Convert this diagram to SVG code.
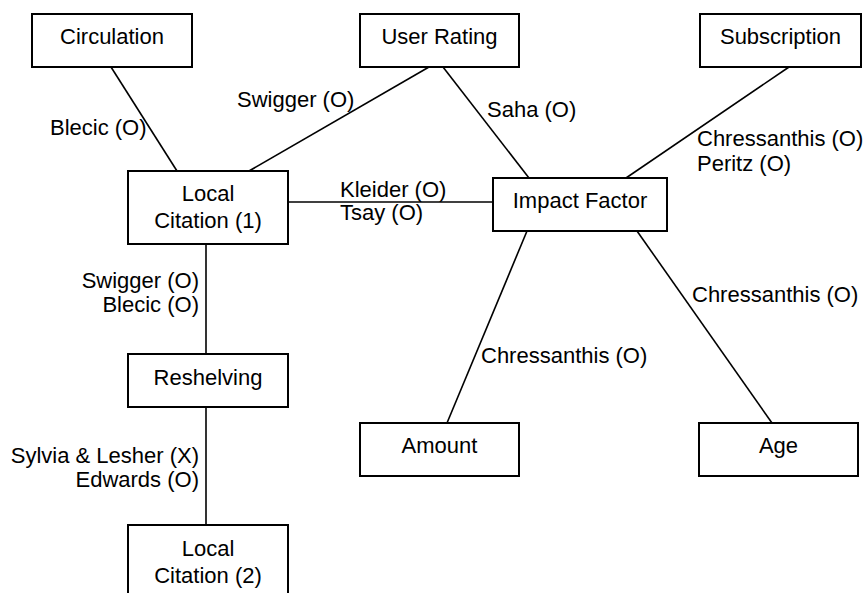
<svg xmlns="http://www.w3.org/2000/svg" width="864" height="593" viewBox="0 0 864 593">
<style>
.box{fill:#fff;stroke:#000;stroke-width:2}
.t{font-family:"Liberation Sans",Arial,sans-serif;font-size:22px;fill:#000}
.c{text-anchor:middle}
.e{text-anchor:end}
.ln{stroke:#000;stroke-width:1.6;fill:none}
</style>
<rect width="864" height="593" fill="#fff"/>
<g id="connectors">
<line class="ln" x1="111" y1="67" x2="177" y2="171"/>
<line class="ln" x1="429" y1="67" x2="249" y2="171"/>
<line class="ln" x1="443" y1="67" x2="529" y2="178"/>
<line class="ln" x1="789" y1="67" x2="626" y2="178"/>
<line class="ln" x1="288" y1="202" x2="493" y2="202"/>
<line class="ln" x1="527" y1="231" x2="447" y2="423"/>
<line class="ln" x1="637" y1="231" x2="772" y2="423"/>
<line class="ln" x1="206" y1="244" x2="206" y2="354"/>
<line class="ln" x1="206" y1="407" x2="206" y2="525"/>
<text class="t" x="50" y="135">Blecic (O)</text>
<text class="t" x="237" y="107">Swigger (O)</text>
<text class="t" x="487" y="117">Saha (O)</text>
<text class="t" x="340" y="197">Kleider (O)</text>
<text class="t" x="340" y="220">Tsay (O)</text>
<text class="t" x="697" y="146">Chressanthis (O)</text>
<text class="t" x="697" y="171">Peritz (O)</text>
<text class="t" x="692" y="302">Chressanthis (O)</text>
<text class="t" x="481" y="363">Chressanthis (O)</text>
<text class="t e" x="199" y="288">Swigger (O)</text>
<text class="t e" x="199" y="312">Blecic (O)</text>
<text class="t e" x="199" y="463">Sylvia &amp; Lesher (X)</text>
<text class="t e" x="199" y="487">Edwards (O)</text>
</g>
<g id="circulation">
<rect class="box" x="32" y="14" width="160" height="53"/>
<text class="t c" x="112" y="44">Circulation</text>
</g>
<g id="user-rating">
<rect class="box" x="360" y="14" width="159" height="53"/>
<text class="t c" x="439.5" y="44">User Rating</text>
</g>
<g id="subscription">
<rect class="box" x="700" y="14" width="161" height="53"/>
<text class="t c" x="780.5" y="44">Subscription</text>
</g>
<g id="local-citation-1">
<rect class="box" x="128" y="171" width="160" height="73"/>
<text class="t c" x="208" y="201">Local</text>
<text class="t c" x="208" y="228">Citation (1)</text>
</g>
<g id="impact-factor">
<rect class="box" x="493" y="178" width="174" height="53"/>
<text class="t c" x="580" y="208">Impact Factor</text>
</g>
<g id="reshelving">
<rect class="box" x="128" y="354" width="160" height="53"/>
<text class="t c" x="208" y="385">Reshelving</text>
</g>
<g id="amount">
<rect class="box" x="360" y="423" width="159" height="53"/>
<text class="t c" x="439.5" y="453">Amount</text>
</g>
<g id="age">
<rect class="box" x="699" y="423" width="159" height="53"/>
<text class="t c" x="778.5" y="453">Age</text>
</g>
<g id="local-citation-2">
<rect class="box" x="128" y="525" width="160" height="73"/>
<text class="t c" x="208" y="556">Local</text>
<text class="t c" x="208" y="583">Citation (2)</text>
</g>
</svg>
